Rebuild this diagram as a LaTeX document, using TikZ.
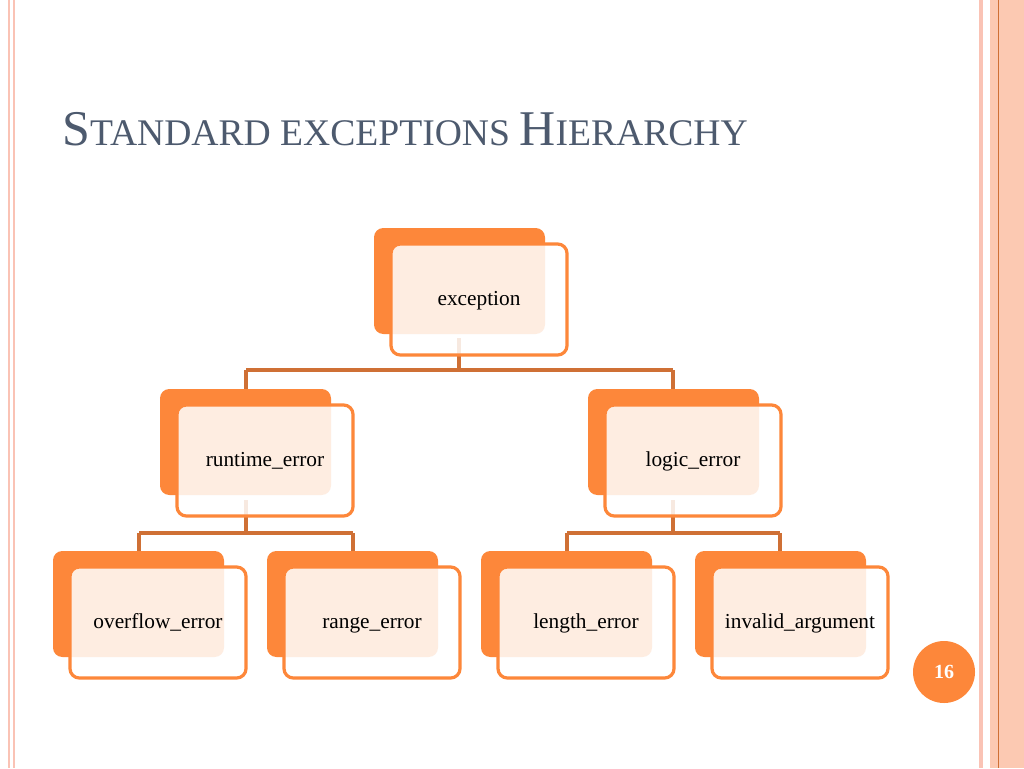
\documentclass[tikz,border=0pt]{standalone}
\usepackage{fontspec}
\setmainfont{Liberation Serif}
\begin{document}
\begin{tikzpicture}[x=0.75pt,y=-0.75pt,
  back/.style={fill=orange1,rounded corners=7pt},
  front/.style={draw=orange1,line width=2.4pt,fill=white,fill opacity=0.85,rounded corners=7pt},
  lbl/.style={font=\fontsize{16}{18}\selectfont,text=black,anchor=base},
  conn/.style={draw=lineor,line width=2.6pt}]
\definecolor{orange1}{HTML}{FD873A}
\definecolor{lineor}{HTML}{CF7035}
\definecolor{peach}{HTML}{FCC9B2}
\definecolor{pinkl}{HTML}{FAC3B5}
\definecolor{titlec}{HTML}{4D5A6E}
\useasboundingbox (0,0) rectangle (1024,768);
\fill[white] (0,0) rectangle (1024,768);
% borders
\fill[pinkl] (8,0) rectangle (10,768);
\fill[pinkl] (13,0) rectangle (15,768);
\fill[pinkl] (979,0) rectangle (983,768);
\fill[peach] (990,0) rectangle (1024,768);
\draw[lineor,line width=0.6pt] (998,0) -- (998,768);
% title
\node[anchor=base west,text=titlec,inner sep=0] (title) at (62,145)
  {\fontsize{37.5}{40}\selectfont S\fontsize{28.2}{30}\selectfont TANDARD EXCEPTIONS \fontsize{37.5}{40}\selectfont H\fontsize{28.2}{30}\selectfont IERARCHY};
% connectors
\coordinate (c0) at (459,338); \coordinate (h0) at (459,370);
\coordinate (h0l) at (246,370); \coordinate (h0r) at (673,370);
\coordinate (r0) at (246,392); \coordinate (l0) at (673,392);
\draw[conn] (c0) -- (h0) (h0l) -- (h0r) (h0l) -- (r0) (h0r) -- (l0);
\coordinate (c1) at (246,500); \coordinate (h1) at (246,533);
\coordinate (h1l) at (139,533); \coordinate (h1r) at (353,533);
\draw[conn] (c1) -- (h1) (h1l) -- (h1r) (h1l) -- (139,554) (h1r) -- (353,554);
\coordinate (c2) at (673,500); \coordinate (h2) at (673,533);
\coordinate (h2l) at (567,533); \coordinate (h2r) at (780,533);
\draw[conn] (c2) -- (h2) (h2l) -- (h2r) (h2l) -- (567,554) (h2r) -- (780,554);
% boxes
\newcommand{\ebox}[4]{% name, x, y, text (back top-left)
  \fill[back] (#2,#3) rectangle ++(171,106);
  \draw[front] (#2+17,#3+16) rectangle ++(176,111);
  \node[lbl] (#1) at (#2+105,#3+77) {#4};}
\ebox{exc}{374}{228}{exception}
\ebox{rt}{160}{389}{runtime\_error}
\ebox{lg}{588}{389}{logic\_error}
\ebox{ov}{53}{551}{overflow\_error}
\ebox{rg}{267}{551}{range\_error}
\ebox{ln}{481}{551}{length\_error}
\ebox{ia}{695}{551}{invalid\_argument}
% page number
\node[circle,fill=orange1,minimum size=46.5pt,inner sep=0,text=white,font=\bfseries\fontsize{15}{17}\selectfont] (pg) at (944,672) {16};
\end{tikzpicture}
\end{document}
